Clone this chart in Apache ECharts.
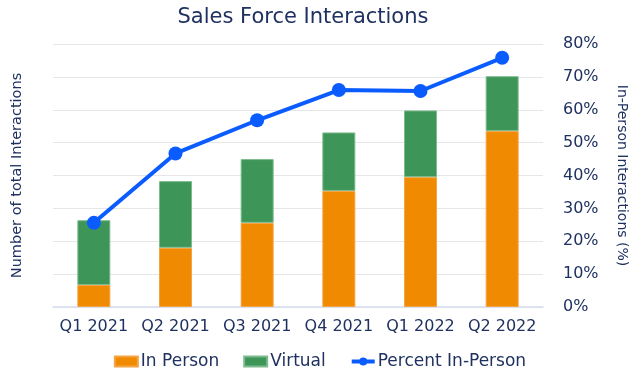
<!DOCTYPE html>
<html>
<head>
<meta charset="utf-8">
<script src="https://cdn.jsdelivr.net/npm/echarts@6/dist/echarts.min.js"></script>
<style>html,body{margin:0;padding:0;background:#fff;}#c{width:640px;height:383px;}</style>
</head>
<body>
<div id="c"></div>
<script>
const categories = ['Q1 2021','Q2 2021','Q3 2021','Q4 2021','Q1 2022','Q2 2022'];
const inPerson = [6.7, 18.0, 25.6, 35.3, 39.5, 53.5];
const virtual = [19.7, 20.3, 19.4, 17.8, 20.3, 16.7];
const percentInPerson = [25.6, 46.7, 56.8, 66.0, 65.7, 75.8];
const pctTicks = [0, 10, 20, 30, 40, 50, 60, 70, 80];

const navy = '#1F3160';
const font = 'DejaVu Sans';
const chart = echarts.init(document.getElementById('c'), null, {renderer: 'canvas'});
chart.setOption({
  animation: false,
  textStyle: {fontFamily: font},
  title: {
    text: 'Sales Force Interactions',
    left: 298, top: 2, textAlign: 'center',
    textStyle: {fontFamily: font, fontSize: 21, fontWeight: 'normal', color: navy}
  },
  grid: {left: 53, right: 97, top: 44, bottom: 76},
  legend: {
    bottom: 8, left: 'center',
    itemWidth: 23, itemHeight: 10, itemGap: 24,
    textStyle: {fontFamily: font, fontSize: 17, color: navy, padding: [0, 0, 0, -2]},
    data: [
      {name: 'In Person', icon: 'rect'},
      {name: 'Virtual', icon: 'rect'},
      {name: 'Percent In-Person', itemStyle: {color: '#0A5CFF'}, lineStyle: {width: 4, color: '#0A5CFF'}}
    ]
  },
  xAxis: {
    type: 'category', data: categories,
    axisLine: {lineStyle: {color: '#D5DDEE', width: 1.5}},
    axisTick: {show: false},
    axisLabel: {fontFamily: font, fontSize: 16, color: navy, margin: 12, interval: 0}
  },
  yAxis: [
    {
      type: 'value', min: 0, max: 80, interval: 10,
      name: 'Number of total Interactions', nameLocation: 'middle', nameGap: 28,
      nameTextStyle: {fontFamily: font, fontSize: 14.5, color: navy},
      axisLabel: {show: false}, axisLine: {show: false}, axisTick: {show: false},
      splitLine: {lineStyle: {color: '#E6E6E6', width: 1}}
    },
    {
      type: 'value', min: 0, max: 80, interval: 10, position: 'right',
      name: 'In-Person Interactions (%)', nameLocation: 'middle', nameGap: 72, nameRotate: -90,
      nameTextStyle: {fontFamily: font, fontSize: 14, color: navy},
      axisLabel: {fontFamily: font, fontSize: 16, color: navy, margin: 20, formatter: '{value}%'},
      axisLine: {show: false}, axisTick: {show: false}, splitLine: {show: false}
    }
  ],
  series: [
    {
      name: 'In Person', type: 'bar', stack: 'total', data: inPerson, barWidth: 33,
      itemStyle: {color: '#F08A00', borderColor: '#F5A445', borderWidth: 1}
    },
    {
      name: 'Virtual', type: 'bar', stack: 'total', data: virtual, barWidth: 33,
      itemStyle: {color: '#3E9558', borderColor: '#7DBB8E', borderWidth: 1}
    },
    {
      name: 'Percent In-Person', type: 'line', yAxisIndex: 1, data: percentInPerson,
      symbol: 'circle', symbolSize: 14,
      lineStyle: {color: '#0A5CFF', width: 4},
      itemStyle: {color: '#0A5CFF'}
    }
  ]
});
</script>
</body>
</html>
